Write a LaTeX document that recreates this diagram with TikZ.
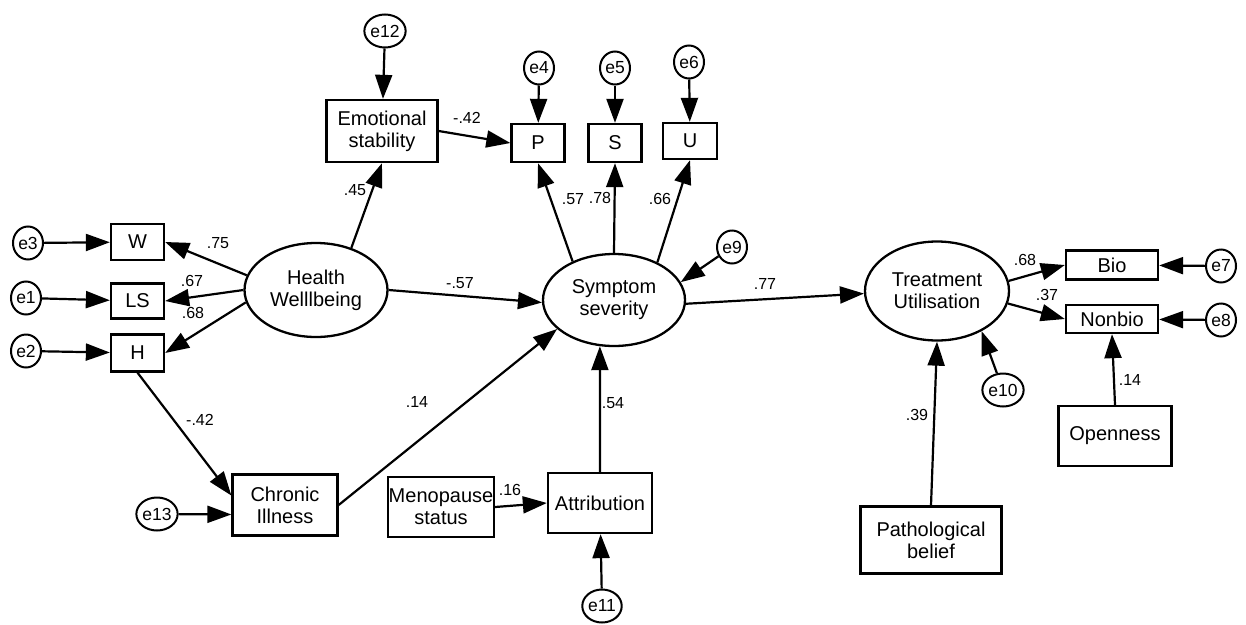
\documentclass[tikz,border=0pt]{standalone}
\usepackage{fontspec}
\setmainfont{Liberation Sans}
\usetikzlibrary{arrows.meta,shapes.geometric}
\begin{document}
\begin{tikzpicture}[x=1pt,y=-1pt,
  obs/.style={draw,line width=2.3pt,rectangle,inner sep=0pt,align=center,
    font=\fontsize{20}{22}\selectfont},
  lat/.style={draw,line width=2.3pt,ellipse,inner sep=0pt,align=center,
    minimum width=143pt,minimum height=94pt,font=\fontsize{20}{22}\selectfont},
  err/.style={draw,line width=2pt,ellipse,inner sep=0pt,minimum width=30pt,
    minimum height=33pt,font=\fontsize{17.5}{18}\selectfont},
  link/.style={draw,line width=2.2pt,-{Triangle[length=24pt,width=17pt]}},
  coef/.style={font=\fontsize{16}{17}\selectfont,inner sep=0pt}]
\useasboundingbox (0,0) rectangle (1246,624);

% latent variables
\node[lat] (hw) at (316,290) {Health\\Welllbeing};
\node[lat,minimum width=142pt,minimum height=92pt] (ss) at (614,300) {Symptom\\severity};
\node[lat,minimum width=144pt,minimum height=99pt] (tu) at (937,291) {Treatment\\Utilisation};

% observed variables
\node[obs,minimum width=53pt,minimum height=36pt] (w) at (137.5,242) {W};
\node[obs,minimum width=53pt,minimum height=35pt] (ls) at (137.5,301) {LS};
\node[obs,minimum width=53pt,minimum height=37pt] (h) at (137.5,353) {H};
\node[obs,minimum width=111pt,minimum height=62pt] (es) at (382,131) {Emotional\\stability};
\node[obs,minimum width=53pt,minimum height=38pt] (p) at (538,143) {P};
\node[obs,minimum width=53pt,minimum height=38pt] (s) at (615,143) {S};
\node[obs,minimum width=54pt,minimum height=36pt] (u) at (690,141) {U};
\node[obs,minimum width=92pt,minimum height=29pt] (bio) at (1112,265) {Bio};
\node[obs,minimum width=92pt,minimum height=28pt] (nb) at (1112,319) {Nonbio};
\node[obs,minimum width=113pt,minimum height=60pt] (op) at (1115,436) {Openness};
\node[obs,minimum width=141pt,minimum height=67pt] (pb) at (931,540) {Pathological\\belief};
\node[obs,minimum width=105pt,minimum height=61pt] (ch) at (285,505) {Chronic\\Illness};
\node[obs,minimum width=106pt,minimum height=60pt] (mp) at (441,507) {Menopause\\status};
\node[obs,minimum width=104pt,minimum height=60pt] (at) at (600,503) {Attribution};

% error terms
\node[err] (e3) at (28,243) {e3};
\node[err] (e1) at (26,298) {e1};
\node[err] (e2) at (26,351) {e2};
\node[err] (e12) at (385,31) {e12};
\node[err] (e4) at (539,68) {e4};
\node[err] (e5) at (615,68) {e5};
\node[err] (e6) at (689,62) {e6};
\node[err] (e9) at (732,247) {e9};
\node[err] (e7) at (1221,266) {e7};
\node[err] (e8) at (1221,320) {e8};
\node[err] (e10) at (1003,390) {e10};
\node[err] (e13) at (157,514) {e13};
\node[err] (e11) at (602,606) {e11};

% error paths
\draw[link] (e3) -- (w);
\draw[link] (e1) -- (ls);
\draw[link] (e2) -- (h);
\draw[link] (e12) -- (es);
\draw[link] (e4) -- (p);
\draw[link] (e5) -- (s);
\draw[link] (e6) -- (u);
\draw[link] (e9) -- (ss.15);
\draw[link] (e7) -- (bio);
\draw[link] (e8) -- (nb);
\draw[link] (e10) -- (tu.-42);
\draw[link] (e13) -- (ch.190);
\draw[link] (e11) -- (at);

% structural paths
\draw[link] (hw.168) -- (w.east);
\draw[link] (hw.west) -- (ls.east);
\draw[link] (hw.190) -- (h.east);
\draw[link] (hw.50) -- (es.south);
\draw[link] (hw.east) -- (ss.182);
\draw[link] (es.east) -- (p.west);
\draw[link] (ss.137) -- (p.south);
\draw[link] (ss.north) -- (s.south);
\draw[link] (ss.41) -- (u.south);
\draw[link] (ss.-3) -- (tu.182);
\draw[link] (tu.8) -- (bio.west);
\draw[link] (tu.-10) -- (nb.west);
\draw[link] (op.north) -- (nb.south);
\draw[link] (pb.north) -- (tu.south);
\draw[link] (h.south) -- (ch.170);
\draw[link] (ch.east) -- (ss.207);
\draw[link] (mp.east) -- (at.west);
\draw[link] (at.north) -- (ss.253);

% coefficients
\node[coef] (c1) at (218,243) {.75};
\node[coef] (c2) at (192,281) {.67};
\node[coef] (c3) at (193,313) {.68};
\node[coef] (c4) at (355,190) {.45};
\node[coef] (c5) at (467,118) {-.42};
\node[coef] (c6) at (573,199) {.57};
\node[coef] (c7) at (600,198) {.78};
\node[coef] (c8) at (660,199) {.66};
\node[coef] (c9) at (460,283) {-.57};
\node[coef] (c10) at (765,284) {.77};
\node[coef] (c11) at (1025,260) {.68};
\node[coef] (c12) at (1047,295) {.37};
\node[coef] (c13) at (1130,380) {.14};
\node[coef] (c14) at (917,415) {.39};
\node[coef] (c15) at (200,420) {-.42};
\node[coef] (c16) at (417,402) {.14};
\node[coef] (c17) at (510,490) {.16};
\node[coef] (c18) at (613,403) {.54};
\end{tikzpicture}
\end{document}
